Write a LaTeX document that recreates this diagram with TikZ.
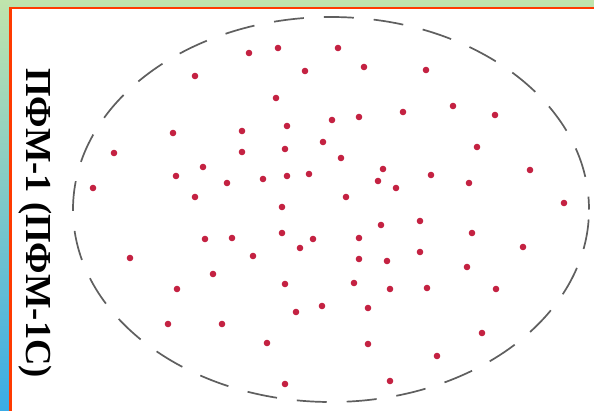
\documentclass[tikz,border=0pt]{standalone}
\usepackage{fontspec}
\setmainfont{Liberation Serif}
\usetikzlibrary{positioning}
\definecolor{bgGreen}{RGB}{192,228,172}
\definecolor{bgBlue}{RGB}{58,172,230}
\definecolor{frameRed}{RGB}{255,58,0}
\definecolor{ringGray}{RGB}{95,95,95}
\definecolor{mineRed}{RGB}{196,34,66}
\begin{document}
\begin{tikzpicture}[x=1pt,y=-1pt,
  minedot/.style={fill=mineRed,draw=none},
  fieldring/.style={draw=ringGray,line width=1.7pt,dash pattern=on 30pt off 20pt,dash phase=40pt}]
\useasboundingbox (0,0) rectangle (594,410);
\shade[top color=bgGreen,bottom color=bgBlue] (0,0) rectangle (594,410);
\draw[draw=frameRed,line width=2.5pt,fill=white] (10.5,8) rectangle (604,420);
\draw[fieldring] (331,209.5) ellipse [x radius=258,y radius=192.5];
\foreach \x/\y in {195/76,249/53,278/48,338/48,305/71,364/67,426/70,
  276/98,453/106,403/112,495/115,332/120,359/117,287/126,242/131,173/133,
  114/153,242/152,285/149,323/142,341/158,477/147,
  383/169,378/181,396/188,431/175,469/183,530/170,564/203,
  93/188,176/176,203/167,227/183,263/179,287/176,309/174,
  195/197,346/197,282/207,381/225,420/221,
  359/238,282/233,313/239,300/248,253/256,205/239,232/238,
  359/259,387/261,420/252,472/233,523/247,467/267,130/258,213/274,
  177/289,285/284,354/283,390/289,427/288,496/289,
  296/312,322/306,368/308,168/324,222/324,482/333,267/343,368/344,437/356,285/384,390/381}
{
    \fill[minedot] (\x,\y) circle (3.3pt);
}
\node[rotate=-90,anchor=base west,inner sep=0pt,font=\bfseries\fontsize{36.6}{38}\selectfont] (label) at (27,68) {ПФМ-1 (ПФМ-1С)};
\end{tikzpicture}
\end{document}
